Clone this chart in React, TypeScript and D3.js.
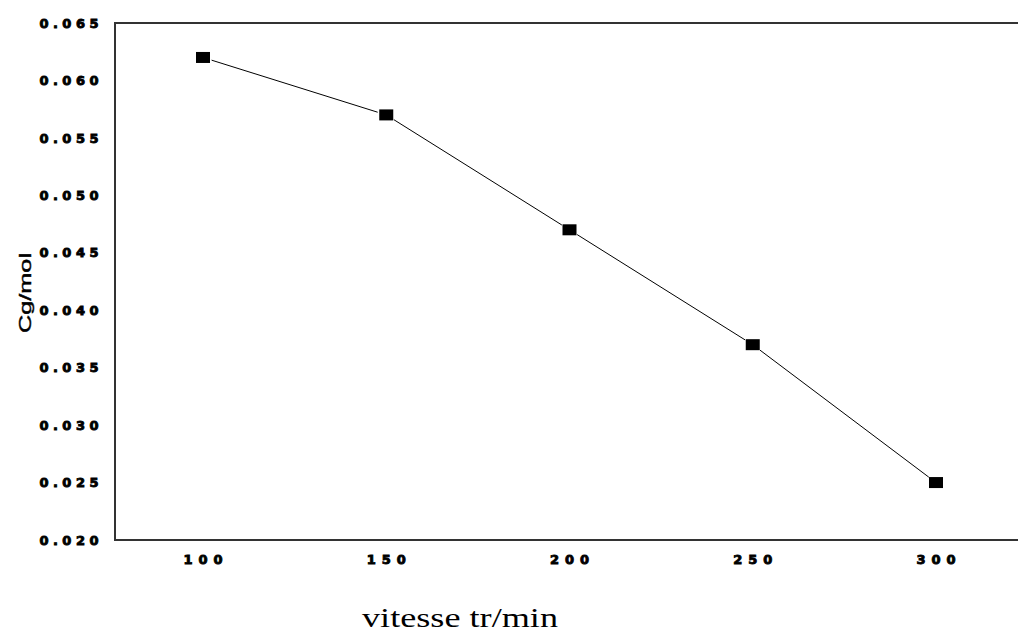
import React from "react";
import * as d3 from "d3";

const speeds = [100, 150, 200, 250, 300];
const cgValues = [0.062, 0.057, 0.047, 0.037, 0.025];
const yTicks = [0.02, 0.025, 0.03, 0.035, 0.04, 0.045, 0.05, 0.055, 0.06, 0.065];
const xTicks = [100, 150, 200, 250, 300];

const W = 1018;
const H = 636;

export default function App() {
  const x = d3.scaleLinear().domain([100, 300]).range([203, 936]);
  const y = d3.scaleLinear().domain([0.02, 0.065]).range([540, 23]);
  const left = 115;
  const top = 23;
  const bottom = 540;
  const pts = speeds.map((s, i) => [x(s), y(cgValues[i])] as [number, number]);
  const gap = 9;
  const segs = pts.slice(1).map((p, i) => {
    const a = pts[i];
    const dx = p[0] - a[0];
    const dy = p[1] - a[1];
    const len = Math.hypot(dx, dy);
    const ux = dx / len;
    const uy = dy / len;
    return [a[0] + ux * gap, a[1] + uy * gap, p[0] - ux * gap, p[1] - uy * gap];
  });
  const fmt = (v: number) => v.toFixed(3);
  return (
    <svg width={W} height={H} style={{ position: "absolute", left: 0, top: 0, background: "#fff" }}>
      <rect x={0} y={0} width={W} height={H} fill="#fff" />
      <path d={`M${W + 5},${top}H${left}V${bottom}H${W + 5}`} fill="none" stroke="#333" strokeWidth={2} />
      {yTicks.map((t) => (
        <text key={t} x={103} y={y(t)} dy="0.36em" textAnchor="end" fontFamily="DejaVu Sans" fontWeight="900" fontSize={13} letterSpacing={4.5} stroke="#000" strokeWidth={0.9} fill="#000">
          {fmt(t)}
        </text>
      ))}
      {xTicks.map((t) => (
        <text key={t} x={x(t) + 3} y={559} dy="0.36em" textAnchor="middle" fontFamily="DejaVu Sans" fontWeight="900" fontSize={13} letterSpacing={6} stroke="#000" strokeWidth={0.9} fill="#000">
          {t}
        </text>
      ))}
      {segs.map((s, i) => (
        <line key={i} x1={s[0]} y1={s[1]} x2={s[2]} y2={s[3]} stroke="#000" strokeWidth={1} />
      ))}
      {pts.map((p, i) => (
        <rect key={i} x={p[0] - 7} y={p[1] - 5.5} width={14} height={11} fill="#000" />
      ))}
      <text transform="translate(31,293) rotate(-90)" textAnchor="middle" fontFamily="Liberation Sans, Arial" fontSize={16} textLength={80} lengthAdjust="spacingAndGlyphs" stroke="#000" strokeWidth={0.4} fill="#000">
        Cg/mol
      </text>
      <text x={460} y={627} textAnchor="middle" fontFamily="Liberation Serif, Times New Roman" fontSize={28} textLength={196} lengthAdjust="spacingAndGlyphs" fill="#000">
        vitesse tr/min
      </text>
    </svg>
  );
}
